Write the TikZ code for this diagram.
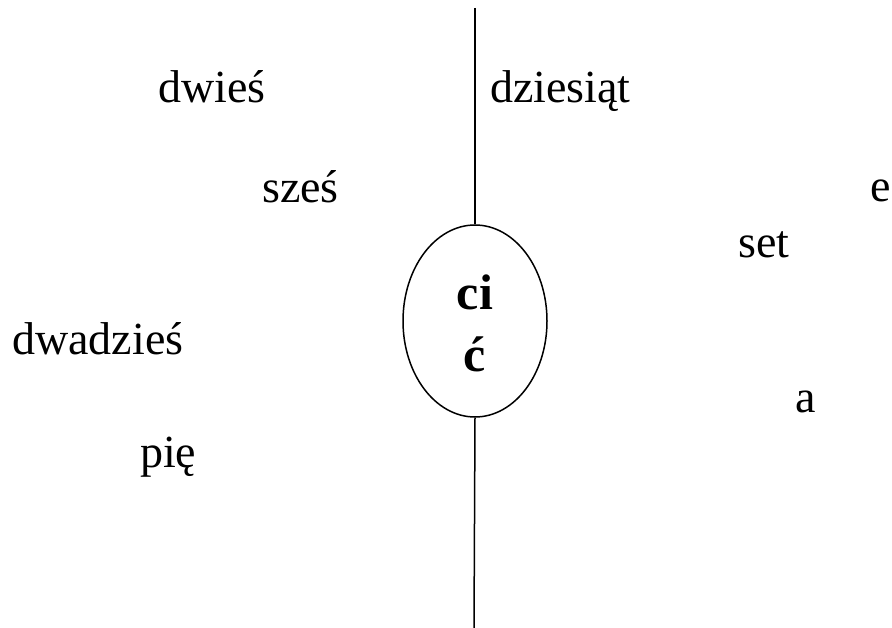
\documentclass[tikz,border=0pt]{standalone}
\usepackage{fontspec}
\setmainfont{Liberation Serif}
\usetikzlibrary{shapes.geometric}
\begin{document}
\begin{tikzpicture}[x=1pt,y=-1pt,
  word/.style={anchor=base west,inner sep=0pt,font=\fontsize{46}{50}\selectfont},
  bword/.style={anchor=base,inner sep=0pt,font=\fontsize{50}{54}\selectfont\bfseries},
  conn/.style={line width=1.5pt}]
\useasboundingbox (0,0) rectangle (892,628);
\node[draw,line width=1.5pt,ellipse,minimum width=144pt,minimum height=192pt,inner sep=0pt] (el) at (475,321) {};
\coordinate (top) at (475,8);
\coordinate (bot) at (474,628);
\draw[conn] (top) -- (el.north);
\draw[conn] (el.south) -- (bot);
\node[bword] (ci) at (475,310) {ci};
\node[bword] (cacute) at (475,371) {ć};
\node[word] (w1) at (158,103) {dwieś};
\node[word] (w2) at (490,103) {dziesiąt};
\node[word] (w3) at (262,203) {sześ};
\node[word] (w4) at (870,202) {e};
\node[word] (w5) at (738,258) {set};
\node[word] (w6) at (12,355) {dwadzieś};
\node[word] (w7) at (795,412) {a};
\node[word] (w8) at (140,467) {pię};
\end{tikzpicture}
\end{document}
